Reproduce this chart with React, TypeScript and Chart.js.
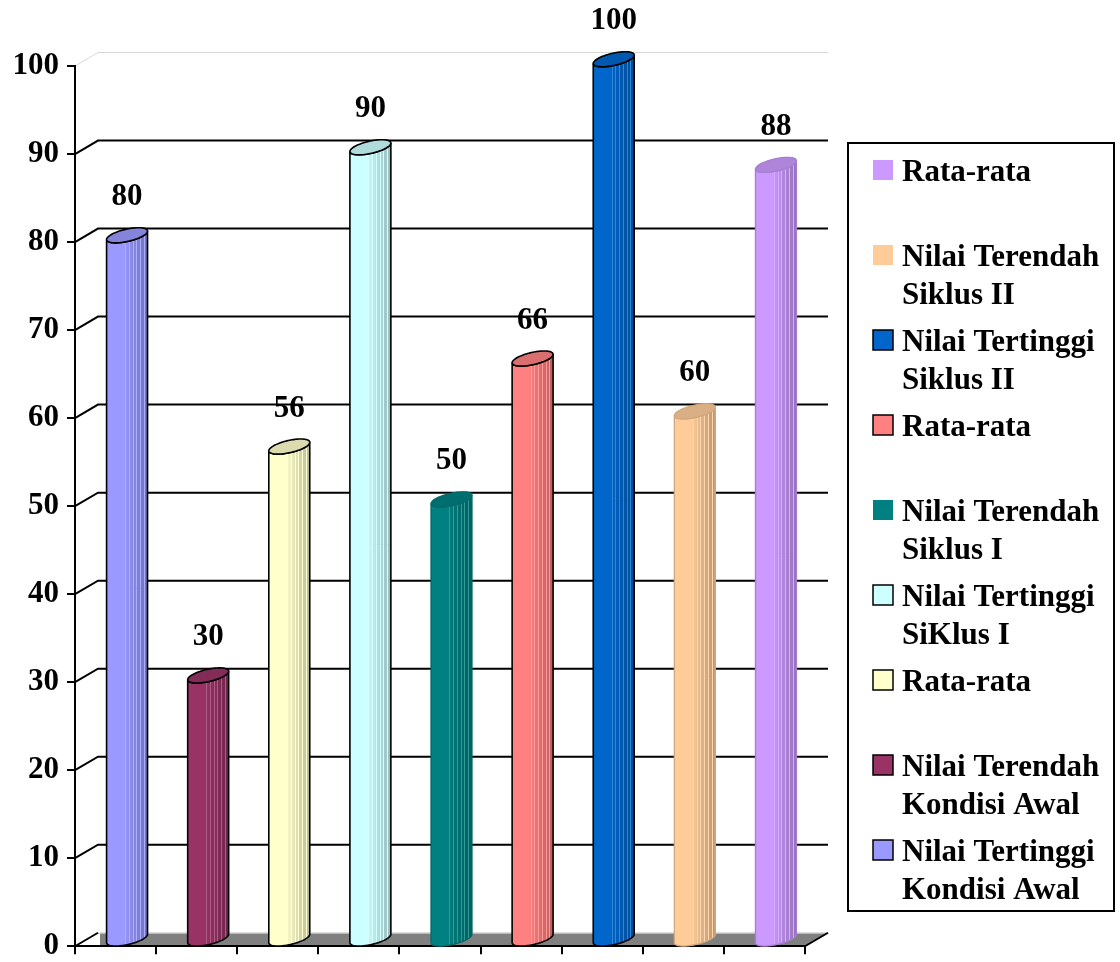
import React, { useEffect, useRef } from "react";
import { Chart, registerables } from "chart.js";

Chart.register(...registerables);

const seriesLabels = [
  "Nilai Tertinggi Kondisi Awal",
  "Nilai Terendah Kondisi Awal",
  "Rata-rata",
  "Nilai Tertinggi SiKlus I",
  "Nilai Terendah Siklus I",
  "Rata-rata",
  "Nilai Tertinggi Siklus II",
  "Nilai Terendah Siklus II",
  "Rata-rata",
];
const legendLines = [
  ["Nilai Tertinggi", "Kondisi Awal"],
  ["Nilai Terendah", "Kondisi Awal"],
  ["Rata-rata"],
  ["Nilai Tertinggi", "SiKlus I"],
  ["Nilai Terendah", "Siklus I"],
  ["Rata-rata"],
  ["Nilai Tertinggi", "Siklus II"],
  ["Nilai Terendah", "Siklus II"],
  ["Rata-rata"],
];
const seriesValues = [80, 30, 56, 90, 50, 66, 100, 60, 88];
const seriesColors = ["#9999FF", "#993366", "#FFFFCC", "#CCFFFF", "#008080", "#FF8080", "#0066CC", "#FFCC99", "#CC99FF"];
const seriesOutlined = [true, true, true, true, false, true, true, false, false];
const yMin = 0;
const yMax = 100;
const yStep = 10;

const FONT = '"Liberation Serif", "Times New Roman", serif';
const DX = 23;
const DY = -13.5;

function hexToRgb(hex: string) {
  const h = hex.replace("#", "");
  return [parseInt(h.slice(0, 2), 16), parseInt(h.slice(2, 4), 16), parseInt(h.slice(4, 6), 16)];
}
function shade(hex: string, f: number) {
  const [r, g, b] = hexToRgb(hex);
  const c = (v: number) => Math.max(0, Math.min(255, Math.round(v * f)));
  return `rgb(${c(r)},${c(g)},${c(b)})`;
}
function tint(hex: string, f: number) {
  const [r, g, b] = hexToRgb(hex);
  const c = (v: number) => Math.round(v + (255 - v) * f);
  return `rgb(${c(r)},${c(g)},${c(b)})`;
}

function drawCylinder(ctx: CanvasRenderingContext2D, cx: number, topY: number, baseY: number, R: number, color: string, outlined: boolean) {
  const hx = DX / 2;
  const hy = DY / 2 - 0.8;
  const a = Math.sqrt(Math.max(R * R - hx * hx, 4));
  const t0 = Math.atan2(hx, a);
  const pt = (cy: number, t: number) => [cx + a * Math.cos(t) + hx * Math.sin(t), cy + hy * Math.sin(t)];
  const N = 48;
  const bodyPath = () => {
    ctx.beginPath();
    for (let k = 0; k <= N; k++) {
      const t = t0 + Math.PI + (Math.PI * k) / N;
      const [x, y] = pt(baseY, t);
      if (k === 0) ctx.moveTo(x, y);
      else ctx.lineTo(x, y);
    }
    for (let k = N; k >= 0; k--) {
      const t = t0 + Math.PI + (Math.PI * k) / N;
      const [x, y] = pt(topY, t);
      ctx.lineTo(x, y);
    }
    ctx.closePath();
  };
  const xL = cx - R;
  const W = 2 * R;
  ctx.save();
  bodyPath();
  ctx.clip();
  ctx.fillStyle = color;
  ctx.fillRect(xL - 2, topY - 20, W + 4, baseY - topY + 40);
  const bands = 6;
  const start = 0.45;
  for (let b = 0; b < bands; b++) {
    const f0 = start + ((1 - start) * b) / bands;
    const f1 = start + ((1 - start) * (b + 1)) / bands;
    ctx.fillStyle = shade(color, 0.95 - (0.2 * b) / (bands - 1));
    ctx.fillRect(xL + W * f0, topY - 20, W * (f1 - f0) + 0.5, baseY - topY + 40);
  }
  ctx.strokeStyle = tint(color, 0.2);
  ctx.lineWidth = 1;
  for (let b = 0; b < bands; b++) {
    const f0 = start + ((1 - start) * b) / bands;
    const x = Math.round(xL + W * f0) + 0.5;
    ctx.beginPath();
    ctx.moveTo(x, topY - 20);
    ctx.lineTo(x, baseY + 20);
    ctx.stroke();
  }
  ctx.restore();
  const outline = outlined ? "#000000" : shade(color, 0.82);
  ctx.strokeStyle = outline;
  ctx.lineWidth = outlined ? 1.6 : 1.3;
  bodyPath();
  ctx.stroke();
  // top face
  ctx.beginPath();
  for (let k = 0; k <= 2 * N; k++) {
    const t = (Math.PI * k) / N;
    const [x, y] = pt(topY, t);
    if (k === 0) ctx.moveTo(x, y);
    else ctx.lineTo(x, y);
  }
  ctx.closePath();
  ctx.fillStyle = shade(color, 0.86);
  ctx.fill();
  ctx.stroke();
}

const wallPlugin = {
  id: "wall3d",
  beforeDraw(chart: any) {
    const ctx: CanvasRenderingContext2D = chart.ctx;
    const { left, right, bottom } = chart.chartArea;
    const ys = chart.scales.y;
    ctx.save();
    ctx.fillStyle = "#ffffff";
    ctx.fillRect(0, 0, chart.width, chart.height);
    // floor
    const by = bottom + DY;
    ctx.beginPath();
    ctx.moveTo(left + DX + 2, by);
    ctx.lineTo(right + DX, by);
    ctx.lineTo(right, bottom);
    ctx.lineTo(left + DX + 2, bottom);
    ctx.closePath();
    ctx.fillStyle = "#808080";
    ctx.fill();
    ctx.strokeStyle = "#d0d0d0";
    ctx.lineWidth = 1;
    ctx.beginPath();
    ctx.moveTo(left + DX, by + 0.5);
    ctx.lineTo(right + DX, by + 0.5);
    ctx.stroke();
    ctx.strokeStyle = "#000";
    ctx.lineWidth = 2;
    ctx.beginPath();
    ctx.moveTo(right, bottom);
    ctx.lineTo(right + DX, by);
    ctx.stroke();
    // wall grid lines
    for (let v = yMin; v <= yMax; v += yStep) {
      const yF = ys.getPixelForValue(v);
      const top = v === yMax;
      ctx.strokeStyle = top ? "#d8d8d8" : "#000000";
      ctx.lineWidth = top ? 1 : 2;
      ctx.beginPath();
      ctx.moveTo(left, yF);
      ctx.lineTo(left + DX, yF + DY);
      if (v !== yMin) ctx.lineTo(right + DX, yF + DY);
      ctx.stroke();
    }
    ctx.restore();
  },
  beforeDatasetDraw() {
    return false;
  },
  afterDatasetsDraw(chart: any) {
    const ctx: CanvasRenderingContext2D = chart.ctx;
    ctx.save();
    chart.data.datasets.forEach((ds: any, i: number) => {
      const meta = chart.getDatasetMeta(i);
      meta.data.forEach((el: any, j: number) => {
        const v = ds.data[j];
        if (v === null || v === undefined) return;
        const cx = el.x + DX / 2;
        const topY = el.y + DY / 2;
        const baseY = el.base + DY / 2;
        drawCylinder(ctx, cx, topY, baseY, el.width / 2, seriesColors[i], seriesOutlined[i]);
        ctx.fillStyle = "#000";
        ctx.font = `bold 31px ${FONT}`;
        ctx.textAlign = "center";
        ctx.textBaseline = "middle";
        ctx.fillText(String(v), cx, topY - 38);
      });
    });
    ctx.restore();
  },
  afterDraw(chart: any) {
    const ctx: CanvasRenderingContext2D = chart.ctx;
    ctx.save();
    ctx.strokeStyle = "#000";
    ctx.lineWidth = 2;
    ctx.strokeRect(848, 143, 266, 768);
    ctx.font = `bold 31px ${FONT}`;
    ctx.textAlign = "left";
    ctx.textBaseline = "alphabetic";
    for (let k = 0; k < seriesLabels.length; k++) {
      const i = seriesLabels.length - 1 - k;
      const top = 160 + 85 * k;
      ctx.fillStyle = seriesColors[i];
      ctx.fillRect(873, top, 20, 20);
      if (seriesOutlined[i]) {
        ctx.strokeStyle = "#000";
        ctx.lineWidth = 1.5;
        ctx.strokeRect(873, top, 20, 20);
      }
      ctx.fillStyle = "#000";
      legendLines[i].forEach((line, j) => {
        ctx.fillText(line, 902, 181 + 85 * k + 38 * j);
      });
    }
    ctx.restore();
  },
};

export default function App() {
  const ref = useRef<HTMLCanvasElement | null>(null);
  useEffect(() => {
    if (!ref.current) return;
    Chart.defaults.font.family = FONT;
    const chart = new Chart(ref.current, {
      type: "bar",
      data: {
        labels: seriesLabels,
        datasets: seriesLabels.map((label, i) => ({
          label,
          data: seriesValues.map((v, j) => (j === i ? v : null)),
          backgroundColor: seriesColors[i],
          borderWidth: 0,
          grouped: false,
          barPercentage: 0.505,
          categoryPercentage: 1,
        })),
      },
      options: {
        responsive: false,
        animation: false,
        devicePixelRatio: 1,
        layout: { autoPadding: false, padding: { left: 0, top: 66, right: 315, bottom: 0 } },
        plugins: { legend: { display: false }, tooltip: { enabled: false } },
        scales: {
          x: {
            offset: true,
            grid: { offset: true, drawOnChartArea: false, drawTicks: true, tickLength: 8, color: "#000", lineWidth: 2 },
            border: { display: true, color: "#000", width: 2 },
            ticks: { display: false, padding: 0 },
            afterFit: (scale: any) => {
              scale.height = 15;
            },
          },
          y: {
            min: yMin,
            max: yMax,
            grid: { drawOnChartArea: false, drawTicks: true, tickLength: 8, color: "#000", lineWidth: 2 },
            border: { display: true, color: "#000", width: 2 },
            ticks: {
              stepSize: yStep,
              padding: 8,
              color: "#000",
              font: { family: FONT, size: 31, weight: "bold", lineHeight: 0.5 },
            },
            afterFit: (scale: any) => {
              scale.width = 75;
            },
          },
        },
      } as any,
      plugins: [wallPlugin],
    });
    return () => chart.destroy();
  }, []);
  return (
    <div style={{ position: "absolute", left: 0, top: 0, width: 1120, height: 962 }}>
      <canvas ref={ref} width={1120} height={962} style={{ display: "block" }} />
    </div>
  );
}
